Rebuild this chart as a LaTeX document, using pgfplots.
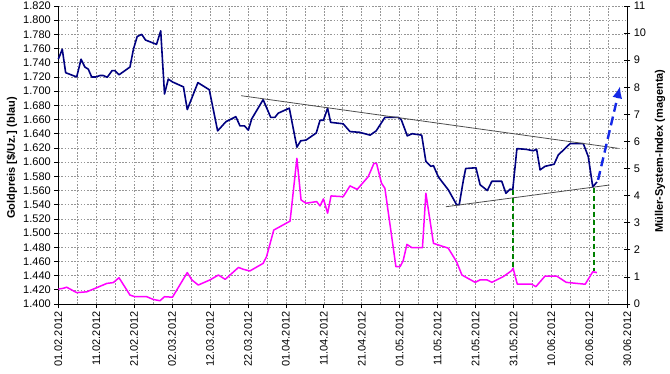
\documentclass[border=0pt]{standalone}
\usepackage{fontspec}
\setmainfont{Liberation Sans}
\usepackage{pgfplots}
\pgfplotsset{compat=1.18}
\usetikzlibrary{arrows.meta}
\definecolor{navyline}{RGB}{0,0,128}
\definecolor{magline}{RGB}{255,0,255}
\definecolor{gridc}{RGB}{150,150,150}
\definecolor{greenline}{RGB}{0,128,0}
\definecolor{arrowblue}{RGB}{20,40,230}
\begin{document}
\begin{tikzpicture}[font=\fontsize{11}{13}\selectfont]
\begin{axis}[name=ax, scale only axis, width=569pt, height=298pt,
  xmin=0, xmax=150, ymin=1400, ymax=1820,
  axis x line*=bottom, axis y line*=left,
  axis line style={black, line width=0.8pt, -},
  xtick={0,10,...,150},
  xticklabels={01.02.2012,11.02.2012,21.02.2012,02.03.2012,12.03.2012,22.03.2012,01.04.2012,11.04.2012,21.04.2012,01.05.2012,11.05.2012,21.05.2012,31.05.2012,10.06.2012,20.06.2012,30.06.2012},
  minor xtick={5,15,...,145},
  ytick={1400,1420,...,1820},
  scaled y ticks=false,
  xmajorgrids, xminorgrids, ymajorgrids,
  major grid style={gridc, dash pattern=on 1.6pt off 1.6pt, line width=0.6pt},
  minor grid style={gridc, dash pattern=on 1.6pt off 1.6pt, line width=0.6pt},
  tick align=outside, major tick length=4pt, minor tick length=0pt,
  tick style={black, line width=0.7pt},
  xticklabel style={rotate=90, anchor=east},
  /pgf/number format/assume math mode=true,
  yticklabel style={/pgf/number format/.cd, fixed, 1000 sep={.}},
  ylabel={Goldpreis [\$/Uz.] (blau)},
  ylabel style={font=\fontsize{11}{13}\selectfont\bfseries, at={(axis description cs:-0.0814,0.49)}, anchor=center},
  clip=false,
]
\addplot[navyline, line width=1.6pt, line join=round] coordinates {
(0,1745) (1.05,1759) (1.94,1726) (4.85,1720) (6,1745) (7,1734) (7.9,1731) (8.8,1720) (9.9,1720) (11,1722) (11.9,1722) (12.9,1719.5) (14.2,1729) (14.9,1729) (16,1723) (18.9,1734) (19.8,1759) (20.8,1777) (22,1780) (23,1772) (25.9,1766) (27,1785) (28,1696) (29,1717) (30.1,1713) (33,1706) (34,1674) (36.8,1712) (39.8,1702) (42,1644) (44.2,1657) (46.8,1664) (47.9,1651) (49.1,1651) (50.1,1645) (51,1661) (54,1688) (56,1663) (57.1,1663) (58,1669) (60.9,1676) (62.9,1621) (63.9,1630) (65.3,1631) (68,1641) (69,1659) (69.9,1659) (71,1676) (71.8,1656) (75.1,1654) (76.9,1643) (79.4,1642) (82.2,1638) (83.8,1644) (86.1,1663) (89.6,1663) (90.4,1660) (92,1637) (93.3,1640) (95.8,1638) (96.9,1601) (98.2,1594) (98.9,1595) (100.2,1579) (102.8,1561) (105,1540) (105.7,1540) (106.8,1575) (107.4,1591) (110.1,1592) (111.2,1568) (113.1,1560) (114.3,1573) (116.9,1573) (118,1556) (119.1,1562) (119.8,1561) (120.9,1619) (123.3,1618) (125.2,1616) (126.1,1618) (127,1589) (128.3,1594) (130.7,1597) (131.8,1610) (134.9,1626) (138.4,1626) (139.7,1608) (140.9,1565) (142,1572)
};
\addplot[black!70, line width=0.8pt] coordinates {(48.2,1693.6) (147.6,1619.4)};
\addplot[black!70, line width=0.8pt] coordinates {(102.2,1537.1) (145.3,1567.7)};
\addplot[greenline, line width=1.8pt, dash pattern=on 5pt off 3pt] coordinates {(119.8,1560) (119.8,1450)};
\addplot[greenline, line width=1.8pt, dash pattern=on 5pt off 3pt] coordinates {(141.15,1564) (141.15,1447)};
\addplot[arrowblue, line width=2.4pt, dash pattern=on 9pt off 5pt, -{Latex[length=12pt,width=10pt]}] coordinates {(142.3,1575) (148.1,1707)};
\end{axis}
\begin{axis}[scale only axis, width=569pt, height=298pt,
  xmin=0, xmax=150, ymin=0, ymax=11,
  axis y line*=right, axis x line=none,
  axis line style={black, line width=0.8pt, -},
  ytick={0,1,...,11},
  tick align=center, major tick length=6pt,
  tick style={black, line width=0.7pt},
  /pgf/number format/assume math mode=true,
  ylabel={Müller-System-Index (magenta)},
  ylabel style={font=\fontsize{11}{13}\selectfont\bfseries, at={(axis description cs:1.0575,0.513)}, anchor=center, rotate=0},
]
\addplot[magline, line width=1.5pt, line join=round] coordinates {
(0,0.55) (1.3,0.58) (2.2,0.62) (4.85,0.42) (7.5,0.45) (10.1,0.60) (12.8,0.76) (14.5,0.79) (16,0.97) (18.9,0.33) (20.2,0.27) (23.3,0.27) (25,0.17) (26.8,0.12) (28,0.27) (30.1,0.25) (34,1.16) (35.2,0.89) (36.9,0.70) (40,0.89) (42.2,1.07) (44,0.91) (47.5,1.35) (48.8,1.28) (50.5,1.22) (54,1.50) (54.9,1.75) (56.8,2.73) (57.6,2.79) (61.1,3.06) (62.9,5.38) (64,3.84) (65.3,3.72) (68.1,3.78) (69,3.62) (69.9,3.88) (71,3.35) (71.9,3.99) (75.1,3.96) (76.9,4.36) (78.8,4.23) (81.7,4.70) (83.2,5.19) (83.9,5.19) (85.2,4.46) (86.1,4.27) (89,1.38) (90.1,1.38) (90.9,1.59) (91.9,2.20) (93.2,2.08) (96,2.08) (96.9,4.09) (98.9,2.24) (102.8,2.06) (105,1.56) (106.4,1.07) (109.9,0.80) (111.2,0.89) (113,0.89) (114.3,0.80) (117.3,1.01) (119.5,1.23) (119.9,1.32) (121,0.73) (124.8,0.73) (125.9,0.64) (128.3,1.03) (131.4,1.03) (133.9,0.80) (136.7,0.76) (138.9,0.73) (140.9,1.19) (142,1.16)
};
\end{axis}
\pgfresetboundingbox
\path[use as bounding box] ([shift={(-58.3pt,-69pt)}]ax.south west) rectangle ([shift={(611.7pt,298pt+6pt)}]ax.south west);
\end{tikzpicture}
\end{document}
